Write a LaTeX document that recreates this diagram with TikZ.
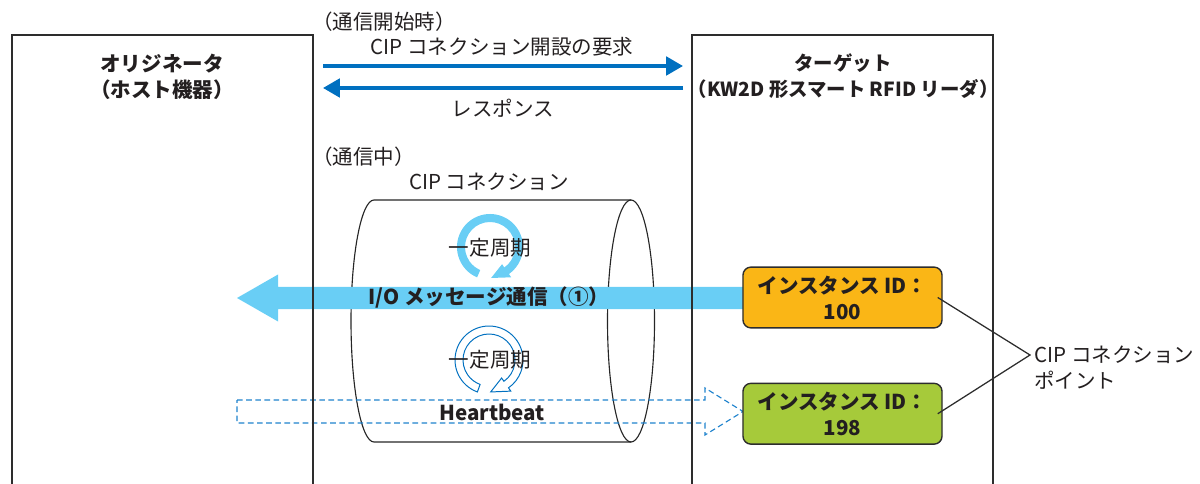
\documentclass[tikz,border=0pt]{standalone}
\usepackage{fontspec}
\setmainfont{Noto Sans CJK JP}
\usetikzlibrary{arrows.meta, positioning, calc}
\definecolor{framegray}{RGB}{45,45,45}
\definecolor{txtgray}{RGB}{35,31,32}
\definecolor{linkblue}{RGB}{0,112,192}
\definecolor{iolight}{RGB}{105,206,245}
\definecolor{hbblue}{RGB}{30,130,205}
\definecolor{idorange}{RGB}{250,182,22}
\definecolor{idgreen}{RGB}{166,202,58}
\tikzset{
  framebox/.style={line width=2.1pt, draw=framegray},
  msgarrow/.style={-{Triangle[length=0.42cm,width=0.46cm]}, line width=2.5pt, draw=linkblue},
  plaintext/.style={inner sep=0pt, text=txtgray, font=\fontsize{14.6}{18.5}\selectfont},
  boldtext/.style={plaintext, font=\fontsize{14.6}{18.5}\selectfont\bfseries},
  idbox/.style={
    rectangle, rounded corners=0.2cm,
    minimum width=4.975cm, minimum height=1.52cm,
    draw=framegray, line width=1pt, fill=#1,
    align=center, boldtext
  },
  cylline/.style={draw=black!85, line width=0.8pt},
  pointline/.style={draw=framegray, line width=0.9pt},
  hbarrow/.style={draw=hbblue, line width=0.8pt, dash pattern=on 4pt off 2.5pt},
}
\begin{document}
\begin{tikzpicture}[x=0.025cm, y=-0.025cm]
  \useasboundingbox (0,0) rectangle (1200,484);
  % cylinder
  \draw[cylline] (374,200) -- (631,200) (631,442) -- (374,442)
       arc[start angle=90, end angle=270, x radius=23, y radius=121];
  \draw[cylline] (631,321) ellipse[x radius=23.5, y radius=121];
  % I/O band
  \fill[iolight] (745,287) -- (278,287) -- (278,274.5) -- (237,298)
       -- (278,321.5) -- (278,309) -- (745,309) -- cycle;
  % cyclic arrows
  \coordinate (cyc1) at (490,247);
  \fill[iolight] ($(cyc1)+(113:33)$) arc[start angle=113, end angle=415, radius=33]
       -- ($(cyc1)+(415:37)$) -- ($(cyc1)+(88:31)$) -- ($(cyc1)+(415:21)$)
       -- ($(cyc1)+(415:25)$) arc[start angle=415, end angle=113, radius=25] -- cycle;
  \coordinate (cyc2) at (489,360);
  \draw[linkblue, line width=0.7pt] ($(cyc2)+(110:34)$) arc[start angle=110, end angle=415, radius=34]
       -- ($(cyc2)+(415:38)$) -- ($(cyc2)+(87:32)$) -- ($(cyc2)+(415:22)$)
       -- ($(cyc2)+(415:26)$) arc[start angle=415, end angle=110, radius=26] -- cycle;
  % heartbeat arrow
  \draw[hbarrow] (237,400) -- (705,400) -- (705,388) -- (743,411.5)
       -- (705,435) -- (705,423) -- (237,423) -- cycle;
  % originator / target
  \draw[framebox] (12,484) -- (12,35) -- (313,35) -- (313,484);
  \draw[framebox] (692,484) -- (692,35) -- (993,35) -- (993,484);
  \node[boldtext, align=center] (orig) at (162,76.5) {オリジネータ\\（ホスト機器）};
  \node[boldtext, align=center, font=\fontsize{13.8}{18.5}\selectfont\bfseries] (targ) at (843,76)
       {ターゲット\\（KW2D 形スマート RFID リーダ）};
  % connection setup
  \node[plaintext, anchor=west] (start) at (312,22) {（通信開始時）};
  \coordinate (reqL) at (323,66);
  \coordinate (reqR) at (683,66);
  \coordinate (resR) at (683,88);
  \coordinate (resL) at (323,88);
  \draw[msgarrow] (reqL) -- (reqR);
  \draw[msgarrow] (resR) -- (resL);
  \node[plaintext] (req) at (502,47) {CIP コネクション開設の要求};
  \node[plaintext] (res) at (503,108) {レスポンス};
  % during connection
  \node[plaintext, anchor=west] (during) at (312,157) {（通信中）};
  \node[plaintext] (conn) at (489,182) {CIP コネクション};
  \node[plaintext] (per1) at (490,248) {一定周期};
  \node[plaintext] (per2) at (490,360) {一定周期};
  \node[boldtext] (io) at (489,298) {I/O メッセージ通信（①）};
  \node[boldtext] (hb) at (492,412) {Heartbeat};
  % connection points
  \node[idbox=idorange] (id100) at (842.5,297.5) {インスタンス ID：\\100};
  \node[idbox=idgreen, below=1.35cm of id100] (id198) {インスタンス ID：\\198};
  \coordinate (cpjoin) at (1030,355);
  \node[plaintext, anchor=west, align=left] (cpt) at (1034,367.5) {CIP コネクション\\ポイント};
  \draw[pointline] ([xshift=-0.125cm]id100.east) -- (cpjoin) -- ([xshift=-0.125cm]id198.east);
\end{tikzpicture}
\end{document}
